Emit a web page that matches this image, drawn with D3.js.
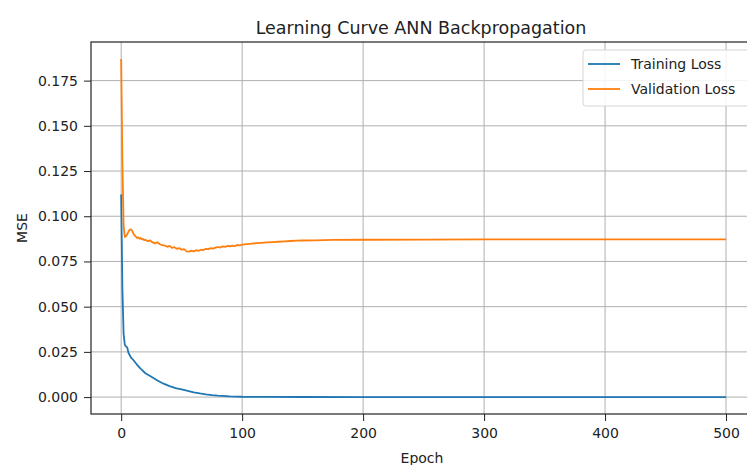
<!DOCTYPE html>
<html>
<head>
<meta charset="utf-8">
<script src="https://cdn.jsdelivr.net/npm/d3@7"></script>
<style>
  body { margin: 0; background: #fff; }
  text { font-family: "DejaVu Sans", sans-serif; fill: #222; }
</style>
</head>
<body>
<div id="chart"></div>
<script>
// values
var trainEpochs = [0, 1, 2, 3, 4, 5, 6, 8, 10, 13, 16, 20, 25, 30, 35, 40, 45, 50, 55, 60, 65, 70, 75, 80, 90, 100, 120, 150, 200, 300, 400, 500];
var trainLoss   = [0.112, 0.060, 0.035, 0.029, 0.028, 0.0275, 0.0245, 0.022, 0.0205, 0.018, 0.0157, 0.0132, 0.0112, 0.0092, 0.0074, 0.0061, 0.0050, 0.0042, 0.0034, 0.0026, 0.0020, 0.0015, 0.0011, 0.0008, 0.0004, 0.0002, 0.0001, 0.00005, 0.00002, 0.00001, 0.00001, 0.00001];

var valEpochs = [0, 1, 2, 3, 4, 5, 6, 7, 8, 9, 10, 11, 12, 13, 14, 15, 16, 17, 18, 19, 20, 22, 24, 26, 28, 30, 32, 34, 36, 38, 40, 42, 44, 46, 48, 50, 52, 54, 56, 58, 60, 62, 64, 66, 68, 70, 72, 74, 76, 78, 80, 82, 84, 86, 88, 90, 92, 94, 96, 98, 100, 104, 108, 112, 116, 120, 125, 130, 135, 140, 145, 150, 160, 175, 200, 250, 300, 400, 500];
var valLoss   = [0.187, 0.130, 0.095, 0.0885, 0.0890, 0.0900, 0.0915, 0.0925, 0.0927, 0.0920, 0.0905, 0.0895, 0.0888, 0.0880, 0.0884, 0.0876, 0.0879, 0.0872, 0.0875, 0.0868, 0.0870, 0.0862, 0.0866, 0.0855, 0.0850, 0.0856, 0.0845, 0.0840, 0.0838, 0.0831, 0.0836, 0.0825, 0.0829, 0.0820, 0.0824, 0.0815, 0.0818, 0.0806, 0.0804, 0.0810, 0.0806, 0.0812, 0.0809, 0.0815, 0.0813, 0.0820, 0.0818, 0.0824, 0.0821, 0.0826, 0.0830, 0.0827, 0.0833, 0.0831, 0.0836, 0.0834, 0.0838, 0.0835, 0.0841, 0.0839, 0.0843, 0.0846, 0.0849, 0.0851, 0.0853, 0.0855, 0.0857, 0.0859, 0.0861, 0.0863, 0.0865, 0.0866, 0.0867, 0.0869, 0.0870, 0.0871, 0.0872, 0.0872, 0.0872];

var xTicks = [0, 100, 200, 300, 400, 500];
var yTicks = [0, 0.025, 0.05, 0.075, 0.1, 0.125, 0.15, 0.175];
var seriesNames = ["Training Loss", "Validation Loss"];
var seriesColors = ["#1f77b4", "#ff7f0e"];

var width = 747, height = 465;
var plotLeft = 91, plotRight = 755, plotTop = 42, plotBottom = 414;

var svg = d3.select("#chart").append("svg")
    .attr("width", width)
    .attr("height", height);

var x = d3.scaleLinear().domain([-24.95, 523.95]).range([plotLeft, plotRight]);
var y = d3.scaleLinear().domain([-0.00935, 0.19635]).range([plotBottom, plotTop]);

svg.append("clipPath").attr("id", "plot")
  .append("rect").attr("x", plotLeft).attr("y", plotTop)
    .attr("width", plotRight - plotLeft).attr("height", plotBottom - plotTop);

// grid
var grid = svg.append("g").attr("clip-path", "url(#plot)");
grid.selectAll(".gx").data(xTicks).enter().append("line")
    .attr("x1", function(d) { return x(d); }).attr("x2", function(d) { return x(d); })
    .attr("y1", plotTop).attr("y2", plotBottom)
    .style("stroke", "#b0b0b0").style("stroke-width", 1);
grid.selectAll(".gy").data(yTicks).enter().append("line")
    .attr("x1", plotLeft).attr("x2", plotRight)
    .attr("y1", function(d) { return y(d); }).attr("y2", function(d) { return y(d); })
    .style("stroke", "#b0b0b0").style("stroke-width", 1);

// axes
var xAxis = d3.axisBottom(x).tickValues(xTicks).tickSize(7).tickPadding(7).tickFormat(d3.format("d"));
var yAxis = d3.axisLeft(y).tickValues(yTicks).tickSize(7).tickPadding(6).tickFormat(d3.format(".3f"));

var gx = svg.append("g").attr("transform", "translate(0," + plotBottom + ")").call(xAxis);
var gy = svg.append("g").attr("transform", "translate(" + plotLeft + ",0)").call(yAxis);
[gx, gy].forEach(function(g) {
  g.select(".domain").remove();
  g.selectAll(".tick line").style("stroke", "#222");
  g.selectAll(".tick text").style("font-size", "14px").style("font-family", "DejaVu Sans").style("fill", "#222");
});

// spines
svg.append("rect")
    .attr("x", plotLeft).attr("y", plotTop)
    .attr("width", plotRight - plotLeft).attr("height", plotBottom - plotTop)
    .style("fill", "none").style("stroke", "#222").style("stroke-width", 1.2);

// lines
var line = d3.line()
    .x(function(d) { return x(d[0]); })
    .y(function(d) { return y(d[1]); });

var series = [
  d3.zip(trainEpochs, trainLoss),
  d3.zip(valEpochs, valLoss)
];

svg.append("g").attr("clip-path", "url(#plot)")
  .selectAll("path").data(series).enter().append("path")
    .attr("d", line)
    .style("fill", "none")
    .style("stroke", function(d, i) { return seriesColors[i]; })
    .style("stroke-width", 1.8)
    .style("stroke-linejoin", "round");

// labels
svg.append("text")
    .attr("x", 421).attr("y", 34)
    .attr("text-anchor", "middle")
    .style("font-size", "17.5px")
    .text("Learning Curve ANN Backpropagation");

svg.append("text")
    .attr("x", 422).attr("y", 463)
    .attr("text-anchor", "middle")
    .style("font-size", "14px")
    .text("Epoch");

svg.append("text")
    .attr("transform", "translate(27," + ((plotTop + plotBottom) / 2) + ") rotate(-90)")
    .attr("text-anchor", "middle")
    .style("font-size", "14px")
    .text("MSE");

// legend
var legend = svg.append("g").attr("transform", "translate(583,50)");
legend.append("rect")
    .attr("width", 170).attr("height", 56).attr("rx", 3)
    .style("fill", "#fff").style("fill-opacity", 0.85)
    .style("stroke", "#d6d6d6").style("stroke-width", 1);
var items = legend.selectAll(".item").data(seriesNames).enter().append("g")
    .attr("transform", function(d, i) { return "translate(0," + (14 + i * 25) + ")"; });
items.append("line")
    .attr("x1", 5).attr("x2", 37)
    .style("stroke", function(d, i) { return seriesColors[i]; })
    .style("stroke-width", 1.8);
items.append("text")
    .attr("x", 48).attr("y", 5)
    .style("font-size", "14px")
    .text(function(d) { return d; });
</script>
</body>
</html>
